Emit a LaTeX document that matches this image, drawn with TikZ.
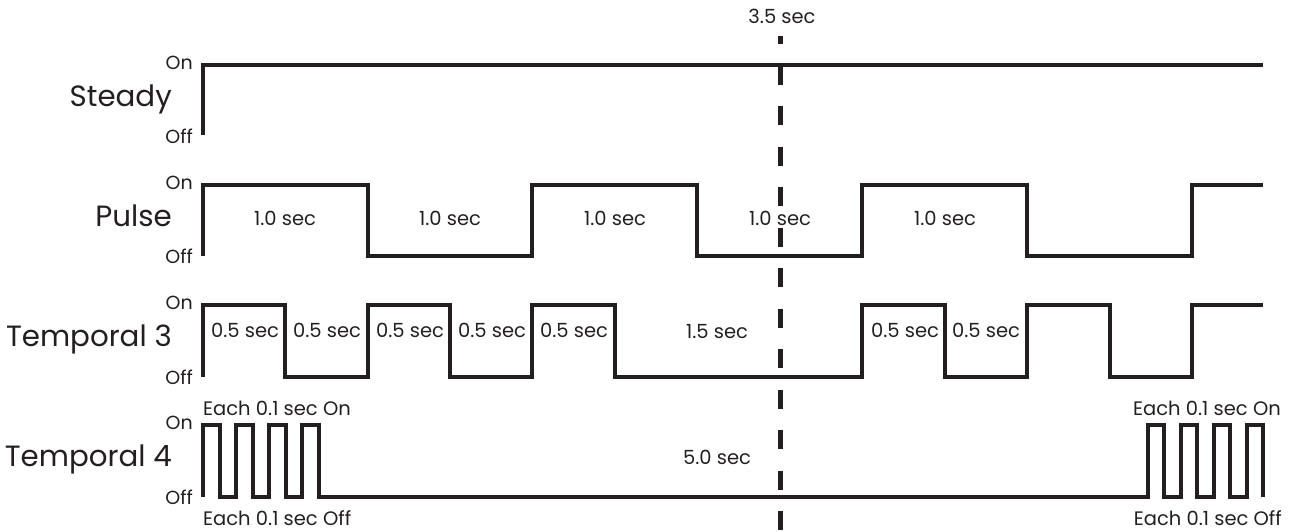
\documentclass[tikz,border=0pt]{standalone}
\usepackage{fontspec}
\setmainfont{Poppins}
\definecolor{ink}{HTML}{231F20}
\begin{document}
\begin{tikzpicture}[x=1pt,y=-1pt,
  wave/.style={draw=ink,line width=4pt,line join=miter},
  cut/.style={draw=ink,line width=5pt,dash pattern=on 19pt off 21.5pt,dash phase=11pt},
  big/.style={font=\fontsize{29.3}{30}\selectfont,text=ink,inner sep=0pt,anchor=base east},
  lvl/.style={font=\fontsize{19}{19}\selectfont,text=ink,inner sep=0pt,anchor=base east},
  dur/.style={font=\fontsize{19.5}{19.5}\selectfont,text=ink,inner sep=0pt,anchor=base},
  each/.style={font=\fontsize{19.5}{19.5}\selectfont,text=ink,inner sep=0pt,anchor=base west}]
\useasboundingbox (0,0) rectangle (1294,531);

% row names
\node[big] (steady) at (172,106) {Steady};
\node[big] (pulse)  at (172,226) {Pulse};
\node[big] (temp3)  at (172,346) {Temporal 3};
\node[big] (temp4)  at (172,466) {Temporal 4};

% On / Off
\node[lvl] (on1)  at (193,69)  {On};
\node[lvl] (off1) at (193,143) {Off};
\node[lvl] (on2)  at (193,189) {On};
\node[lvl] (off2) at (193,263) {Off};
\node[lvl] (on3)  at (193,309) {On};
\node[lvl] (off3) at (193,384) {Off};
\node[lvl] (on4)  at (193,429) {On};
\node[lvl] (off4) at (193,504) {Off};

% Steady
\draw[wave] (203,135) -- (203,65) -- (1263,65);

% Pulse
\draw[wave] (203,256) -- (203,185) -- (368,185) -- (368,256) -- (532,256) -- (532,185)
  -- (697,185) -- (697,256) -- (862,256) -- (862,185) -- (1027,185) -- (1027,256)
  -- (1192,256) -- (1192,185) -- (1263,185);

% Temporal 3
\draw[wave] (203,377) -- (203,305) -- (285,305) -- (285,377) -- (368,377) -- (368,305)
  -- (450,305) -- (450,377) -- (532,377) -- (532,305) -- (615,305) -- (615,377)
  -- (862,377) -- (862,305) -- (945,305) -- (945,377) -- (1027,377) -- (1027,305)
  -- (1110,305) -- (1110,377) -- (1192,377) -- (1192,305) -- (1263,305);

% Temporal 4
\draw[wave] (203,497) -- (203,425) -- (219.5,425) -- (219.5,497) -- (236,497) -- (236,425)
  -- (252.5,425) -- (252.5,497) -- (269,497) -- (269,425) -- (285.5,425) -- (285.5,497)
  -- (302,497) -- (302,425) -- (318.5,425) -- (318.5,497) -- (1147.5,497) -- (1147.5,425)
  -- (1164,425) -- (1164,497) -- (1180.5,497) -- (1180.5,425) -- (1197,425) -- (1197,497)
  -- (1213.5,497) -- (1213.5,425) -- (1230,425) -- (1230,497) -- (1246.5,497) -- (1246.5,425)
  -- (1263,425) -- (1263,497);

% durations
\node[dur] (p1) at (285,225) {1.0 sec};
\node[dur] (p2) at (450,225) {1.0 sec};
\node[dur] (p3) at (615,225) {1.0 sec};
\node[dur] (p4) at (780,225) {1.0 sec};
\node[dur] (p5) at (945,225) {1.0 sec};

\node[dur] (t1) at (245,337) {0.5 sec};
\node[dur] (t2) at (327,337) {0.5 sec};
\node[dur] (t3) at (410,337) {0.5 sec};
\node[dur] (t4) at (492,337) {0.5 sec};
\node[dur] (t5) at (574,337) {0.5 sec};
\node[dur] (t6) at (717,338) {1.5 sec};
\node[dur] (t7) at (905,337) {0.5 sec};
\node[dur] (t8) at (986,337) {0.5 sec};

\node[dur] (q1) at (717,464) {5.0 sec};

\node[each] (eon1)  at (203,415) {Each 0.1 sec On};
\node[each] (eoff1) at (203,525) {Each 0.1 sec Off};
\node[each,anchor=base east] (eon2)  at (1281,415) {Each 0.1 sec On};
\node[each,anchor=base east] (eoff2) at (1282,525) {Each 0.1 sec Off};

% 3.5 sec marker
\node[dur] (mark) at (782,23) {3.5 sec};
\coordinate (cuttop) at (780,36);
\coordinate (cutbot) at (780,531);
\draw[cut] (cuttop) -- (cutbot);
\end{tikzpicture}
\end{document}
